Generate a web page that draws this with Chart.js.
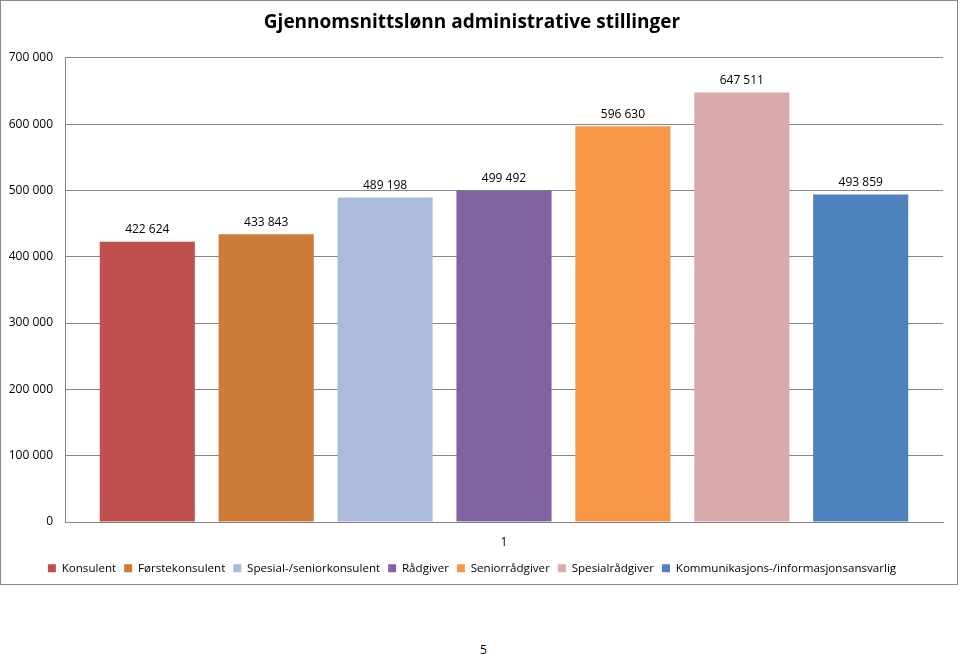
<!DOCTYPE html>
<html>
<head>
<meta charset="utf-8">
<script src="https://cdn.jsdelivr.net/npm/chart.js@4"></script>
<style>
  html, body { margin: 0; padding: 0; background: #fff; }
  #box {
    position: absolute; left: 0; top: 0;
    width: 956px; height: 583px;
    border: 1px solid #8a8a8a;
  }
  #page {
    position: absolute; left: 480px; top: 641px;
    font: 12px 'Open Sans', sans-serif; color: #000;
  }
</style>
</head>
<body>
<div id="box"><canvas id="c" width="956" height="583"></canvas></div>
<div id="page">5</div>
<script>
(function () {
  'use strict';

  // ---- Data -------------------------------------------------
  const categories = ['1'];
  const roles = [
    'Konsulent',
    'Førstekonsulent',
    'Spesial-/seniorkonsulent',
    'Rådgiver',
    'Seniorrådgiver',
    'Spesialrådgiver',
    'Kommunikasjons-/informasjonsansvarlig'
  ];
  const salaries = [422624, 433843, 489198, 499492, 596630, 647511, 493859];
  const colours = ['#C0504D', '#CC7B38', '#ACBBD9', '#8064A2', '#F79646', '#D9AAAA', '#4F81BD'];

  const FONT = "'Open Sans', sans-serif";

  function fmt(v) {
    return String(v).replace(/\B(?=(\d{3})+(?!\d))/g, ' ');
  }

  // Value labels above each bar
  const valueLabels = {
    id: 'valueLabels',
    afterDatasetsDraw(chart) {
      const ctx = chart.ctx;
      ctx.save();
      ctx.font = '12px ' + FONT;
      ctx.fillStyle = '#000';
      ctx.textAlign = 'center';
      ctx.textBaseline = 'middle';
      chart.data.datasets.forEach((ds, i) => {
        chart.getDatasetMeta(i).data.forEach((bar, j) => {
          ctx.fillText(fmt(ds.data[j]), bar.x, bar.y - 12);
        });
      });
      ctx.restore();
    }
  };

  new Chart(document.getElementById('c'), {
    type: 'bar',
    data: {
      labels: categories,
      datasets: roles.map((r, i) => ({
        label: r,
        data: [salaries[i]],
        backgroundColor: colours[i],
        borderWidth: 0,
        categoryPercentage: 0.948,
        barPercentage: 0.8
      }))
    },
    plugins: [valueLabels],
    options: {
      responsive: false,
      animation: false,
      layout: { padding: { top: 0, right: 14, bottom: 0, left: 0 } },
      plugins: {
        title: {
          display: true,
          text: 'Gjennomsnittslønn administrative stillinger',
          color: '#000',
          font: { family: FONT, size: 19, weight: 'bold' },
          padding: { top: 10, bottom: 24 }
        },
        legend: {
          position: 'bottom',
          labels: {
            color: '#000',
            font: { family: FONT, size: 11.6 },
            boxWidth: 8,
            boxHeight: 8,
            padding: 8
          }
        },
        tooltip: { enabled: false }
      },
      scales: {
        x: {
          grid: { display: false },
          border: { color: '#868686' },
          ticks: { color: '#000', font: { family: FONT, size: 12 }, padding: 5 }
        },
        y: {
          min: 0,
          max: 700000,
          afterFit: s => { s.width = 64; },
          grid: { color: '#868686', drawTicks: false },
          border: { color: '#868686' },
          ticks: {
            stepSize: 100000,
            color: '#000',
            padding: 12,
            font: { family: FONT, size: 12 },
            callback: v => fmt(v)
          }
        }
      }
    }
  });
})();
</script>
</body>
</html>
